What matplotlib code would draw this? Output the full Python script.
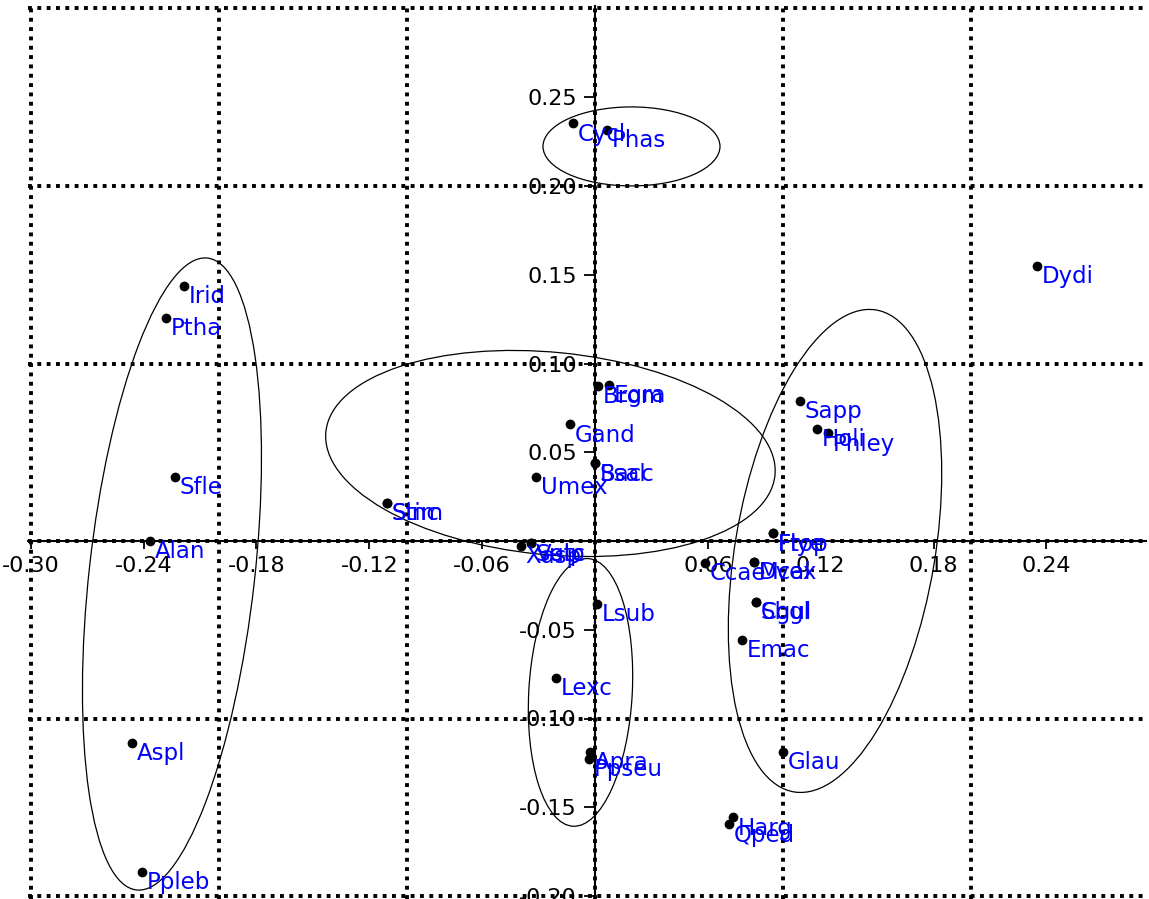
import matplotlib
matplotlib.use("Agg")
import matplotlib.pyplot as plt
from matplotlib.patches import Ellipse
from matplotlib.ticker import FixedLocator, FuncFormatter, MultipleLocator

plt.rcParams['font.family'] = ['DejaVu Sans']
plt.rcParams['axes.unicode_minus'] = False

# ---- data ----
names = ["Cycl", "Phas", "Dydi", "Irid", "Ptha", "Sfle", "Alan", "Aspl", "Ppleb",
         "Stim", "Sinc", "Umex", "Gand", "Brom", "Egra", "Ssal", "Bacc",
         "Xasp", "Setc", "Vulp", "Lsub", "Lexc", "Apra", "Ppseu", "Harg", "Qped",
         "Glau", "Emac", "Cgul", "Sbgl", "Dvex", "Mcal", "Ccae", "Ftop", "Flye",
         "Sapp", "Holi", "Phley"]
xs = [-0.0117, 0.0065, 0.2350, -0.2185, -0.2281, -0.2233, -0.2366, -0.2461, -0.2408,
      -0.1106, -0.1106, -0.0314, -0.0133, 0.0018, 0.0074, 0.0000, 0.0000,
      -0.0395, -0.0340, -0.0340, 0.0011, -0.0207, -0.0027, -0.0032, 0.0735, 0.0714,
      0.0999, 0.0781, 0.0856, 0.0856, 0.0847, 0.0847, 0.0585, 0.0945, 0.0945,
      0.1090, 0.1179, 0.1240]
ys = [0.2353, 0.2315, 0.1549, 0.1437, 0.1256, 0.0361, 0.0000, -0.1138, -0.1865,
      0.0214, 0.0214, 0.0361, 0.0657, 0.0873, 0.0879, 0.0438, 0.0438,
      -0.0026, -0.0013, -0.0013, -0.0355, -0.0772, -0.1189, -0.1228, -0.1557, -0.1596,
      -0.1189, -0.0558, -0.0342, -0.0342, -0.0117, -0.0117, -0.0122, 0.0043, 0.0043,
      0.0790, 0.0631, 0.0607]

# group ellipses: centre x, centre y, width, height, angle
ell_cx = [0.0194, -0.2249, -0.0237, -0.0077, 0.1276]
ell_cy = [0.2223, -0.0186, 0.0493, -0.0853, -0.0056]
ell_w = [0.0941, 0.0880, 0.2400, 0.0550, 0.1063]
ell_h = [0.0445, 0.3580, 0.1140, 0.1510, 0.2750]
ell_ang = [0, -6, -6, -3, -9]

xticks = [-0.30, -0.24, -0.18, -0.12, -0.06, 0.0, 0.06, 0.12, 0.18, 0.24]
yticks = [-0.20, -0.15, -0.10, -0.05, 0.0, 0.05, 0.10, 0.15, 0.20, 0.25]

# ---- figure ----
W, H = 1149, 899
fig = plt.figure(figsize=(W / 100, H / 100), dpi=100)
xlo, xhi = -0.3015, 0.293
ylo, yhi = -0.2015, 0.3015
ppx, ppy = 1881.0, 1775.0       # pixels per data unit
x0px, y0px = 595.0, 541.0       # pixel position of the origin (from top-left)
left = (x0px + xlo * ppx) / W
width = (xhi - xlo) * ppx / W
top_px = y0px - yhi * ppy
bot_px = y0px - ylo * ppy
ax = fig.add_axes([left, (H - bot_px) / H, width, (bot_px - top_px) / H])
ax.set_xlim(xlo, xhi)
ax.set_ylim(ylo, yhi)

for s in ['top', 'right']:
    ax.spines[s].set_visible(False)
ax.spines['left'].set_position(('data', 0))
ax.spines['bottom'].set_position(('data', 0))
for s in ['left', 'bottom']:
    ax.spines[s].set_linewidth(1.5)

fmt = FuncFormatter(lambda v, p: '' if abs(v) < 1e-9 else f'{v:.2f}')
ax.xaxis.set_major_locator(FixedLocator(xticks))
ax.yaxis.set_major_locator(FixedLocator(yticks))
ax.xaxis.set_major_formatter(fmt)
ax.yaxis.set_major_formatter(fmt)
ax.xaxis.set_minor_locator(MultipleLocator(0.1))
ax.yaxis.set_minor_locator(MultipleLocator(0.1))
ax.xaxis.remove_overlapping_locs = False
ax.yaxis.remove_overlapping_locs = False
ax.tick_params(axis='x', which='major', direction='out', length=5.5, width=1.3,
               labelsize=16, pad=5)
ax.tick_params(axis='y', which='major', direction='out', length=8, width=1.3,
               labelsize=16, pad=5)
ax.tick_params(which='minor', length=0)
ax.grid(False, which='major')
ax.grid(True, which='minor', color='black', linewidth=2.8, linestyle=(0, (1, 1.4)))

for cx, cy, w, h, a in zip(ell_cx, ell_cy, ell_w, ell_h, ell_ang):
    ax.add_patch(Ellipse((cx, cy), w, h, angle=a, fill=False, edgecolor='black',
                         linewidth=0.9, zorder=3))

ax.plot(xs, ys, 'o', color='black', markersize=6, zorder=4, clip_on=False)
for n, x, y in zip(names, xs, ys):
    ax.annotate(n, (x, y), xytext=(3.5, -12.5), textcoords='offset points',
                color='#0000FF', fontsize=16.5, ha='left', va='baseline', zorder=5)

fig.savefig('out.png', dpi=100, facecolor='white')
